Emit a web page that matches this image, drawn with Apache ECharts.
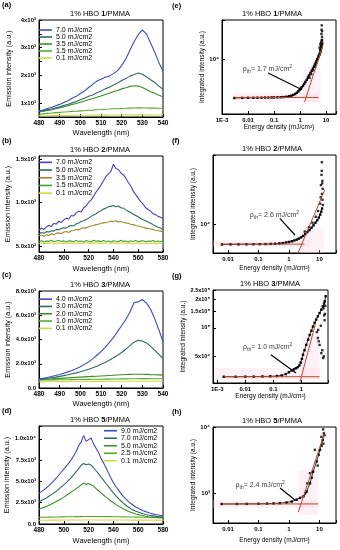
<!DOCTYPE html>
<html><head><meta charset="utf-8">
<script src="https://cdn.jsdelivr.net/npm/echarts@6/dist/echarts.min.js"></script>
<style>html,body{margin:0;padding:0;background:#fff}#c{width:340px;height:550px}</style>
</head><body><div id="c"></div>
<script>
// ---------- DATA ----------
const wlA = [480,482,484,486,488,490,492,494,496,498,500,502,504,506,508,510,512,514,516,518,520,522,524,526,528,530,532,534,536,538,540];
const wlB = [480,482,484,486,488,490,492,494,496,498,500,502,504,506,508,510,512,514,516,518,520,522,524,526,528,530,532,534,536,538,540,542,544,546,548,550,552,554,556,558,560,562,564,566,568,570,572,574,576,578,580];

const namesA = ['7.0 mJ/cm2','5.0 mJ/cm2','3.5 mJ/cm2','1.5 mJ/cm2','0.1 mJ/cm2'];
const namesB = ['7.0 mJ/cm2','5.0 mJ/cm2','3.5 mJ/cm2','1.5 mJ/cm2','0.1 mJ/cm2'];
const namesC = ['4.0 mJ/cm2','3.0 mJ/cm2','2.0 mJ/cm2','1.0 mJ/cm2','0.1 mJ/cm2'];
const namesD = ['9.0 mJ/cm2','7.0 mJ/cm2','5.0 mJ/cm2','2.5 mJ/cm2','0.1 mJ/cm2'];

const a70 = [720,755,805,845,905,955,1025,1085,1175,1245,1345,1435,1565,1675,1795,1865,1935,1975,2065,2175,2355,2595,2905,3215,3470,3640,3500,3170,2840,2470,2150];
const a50 = [700,730,765,790,835,865,915,955,1015,1055,1125,1175,1245,1295,1375,1435,1515,1575,1655,1725,1815,1885,1975,2035,2085,2040,1955,1845,1745,1615,1500];
const a35 = [680,700,735,755,795,825,875,905,955,985,1035,1075,1125,1165,1215,1255,1315,1355,1415,1455,1515,1555,1605,1625,1615,1565,1495,1415,1355,1285,1230];
const a15 = [600,612,632,643,657,668,682,688,702,708,722,728,742,748,762,768,782,788,797,800,807,813,822,824,831,828,826,820,822,816,815];
const a01 = [540,546,547,551,551,556,555,559,559,561,561,564,564,567,567,570,569,572,571,574,573,576,574,577,575,576,574,575,572,573,571];

const b70 = [680,705,690,720,735,725,760,750,785,770,800,820,810,850,845,880,900,890,940,960,1000,1030,1070,1120,1160,1200,1250,1300,1330,1360,1440,1390,1380,1340,1320,1280,1230,1190,1130,1090,1050,1010,980,940,920,900,870,860,840,830,815];
const b50 = [640,655,645,665,660,675,670,690,685,700,710,705,725,735,730,755,765,780,790,805,820,840,855,870,890,905,925,935,950,955,965,950,960,940,935,915,900,885,865,850,835,815,800,790,775,760,745,730,715,705,690];
const b35 = [615,625,610,630,620,640,630,645,650,640,660,665,655,675,680,690,685,700,710,705,720,730,735,745,750,760,765,770,775,785,780,790,775,780,770,765,760,750,745,735,730,720,715,705,700,695,690,680,675,670,665];
const b15 = [550,560,545,558,552,565,548,556,562,550,558,545,560,555,548,563,552,557,546,561,554,549,566,553,558,547,562,551,556,544,560,553,549,564,552,557,546,559,551,562,548,555,560,547,556,552,563,549,557,551,554];
const b01 = [528,534,526,531,529,536,524,530,533,527,532,525,535,529,531,524,533,528,530,536,526,532,529,534,527,531,525,533,530,528,535,526,531,529,534,527,532,530,525,533,529,531,527,534,528,530,532,526,531,529,530];

const c40 = [750,810,870,950,1030,1120,1220,1330,1450,1590,1750,1950,2150,2400,2700,3000,3350,3750,4150,4650,5150,5650,6250,7050,7100,7300,7000,6500,5700,4800,3800];
const c30 = [720,760,800,850,900,960,1020,1090,1170,1250,1340,1440,1550,1670,1800,1950,2110,2290,2490,2700,2930,3200,3500,3780,3930,3880,3720,3430,3120,2780,2450];
const c20 = [700,715,735,755,775,795,815,835,855,875,895,915,935,955,975,995,1015,1035,1055,1075,1095,1110,1120,1130,1135,1130,1120,1105,1095,1080,1060];
const c10 = [650,655,662,666,672,676,682,686,692,696,702,706,712,716,722,726,732,736,742,746,752,755,760,764,767,770,770,769,767,764,762];
const c01 = [500,506,510,516,519,523,525,529,530,533,535,538,540,543,544,547,548,550,551,553,553,555,555,556,556,557,556,556,555,554,553];

const d90 = [3600,3800,4000,4250,4500,4800,5100,5400,5750,6100,6450,6800,7150,7550,8000,8500,9200,9600,10400,9700,9900,10100,9400,8900,8400,7700,7200,6600,6000,5400,4850,4400,4000,3600,3250,2950,2650,2400,2200,2000,1850,1700,1550,1450,1350,1250,1180,1100,1050,1000,950];
const d70 = [2600,2750,2900,3050,3250,3450,3650,3850,4100,4350,4600,4850,5150,5450,5800,6150,6500,6900,7100,6950,7050,6900,6600,6250,5900,5500,5150,4750,4400,4000,3650,3300,3000,2700,2450,2200,2000,1800,1650,1500,1400,1300,1200,1120,1050,1000,950,900,870,850,830];
const d50 = [1750,1850,1950,2050,2200,2350,2500,2650,2800,2950,3150,3350,3550,3750,3950,4150,4350,4600,4800,4650,4750,4600,4450,4150,3900,3650,3400,3150,2950,2700,2500,2300,2100,1950,1800,1650,1500,1380,1280,1180,1100,1020,960,900,850,810,780,760,740,720,710];
const d25 = [780,790,795,800,808,812,818,822,828,832,838,842,848,852,858,862,866,870,874,876,878,880,880,879,878,876,874,870,866,862,858,852,848,842,836,830,826,820,815,810,805,800,796,792,788,784,780,776,772,768,765];
const d01 = [440,442,445,447,449,451,453,455,457,459,461,463,464,466,467,468,469,470,471,471,472,472,472,472,471,471,470,470,469,468,467,466,465,464,463,462,461,460,459,458,457,456,455,454,453,452,451,450,449,448,447];

// threshold panels
const eX = [0.003,0.006,0.01,0.016,0.023,0.033,0.045,0.06,0.08,0.1,0.135,0.18,0.23,0.3,0.38,0.46,0.55,0.65,0.75,0.85,0.95,1.05,1.15,1.3,1.45,1.6,1.8,2.0,2.2,2.5,2.8,3.1,3.4,3.7,4.0,4.3,4.6,4.9,5.2,5.5,5.8,6.1,6.3,6.5,6.7,6.9];
const eY = [3850,3860,3870,3870,3880,3880,3890,3890,3900,3900,3910,3920,3940,3970,4010,4070,4150,4250,4380,4520,4680,4850,5000,5200,5450,5700,6000,6350,6700,7100,7500,7900,8300,8700,9100,9500,9900,10300,10700,11100,11500,12000,12500,13000,13600,14200];
const eSX = [6.8,6.6,7.0,6.9,6.5,7.1,6.2,5.9,5.3,4.7,4.2,3.8,3.2,2.7,2.3,6.0,5.6,7.0,6.7,6.95];
const eSY = [22800,18500,17200,16000,15200,14800,13800,12600,10900,9900,9000,8300,7600,6900,6300,14500,13200,19800,20500,15800];
const eFitHX = [0.003,5.2], eFitHY = [3900,3900];
const eFitSX = [1.5,7.6], eFitSY = [3500,14200];
const eNote = [0.006,7830], eArrow = [[0.059,7100],[1.19,4700]];
const eBands = [[0.0025,3450,5.2,4350],[1.36,3450,6.0,8300]];

const fX = [0.0063,0.012,0.022,0.04,0.068,0.11,0.17,0.25,0.35,0.48,0.62,0.8,1.0,1.25,1.5,1.8,2.1,2.5,2.9,3.4,4.0,4.7,5.5,6.4,7.4,8.5,9.6,10.6,11.5,12.2];
const fY = [6250,6260,6260,6270,6280,6290,6300,6320,6350,6400,6450,6530,6620,6720,6850,6980,7150,7350,7600,7900,8300,8700,9200,9700,10300,10900,11600,12400,13300,14300];
const fSX = [12.0,11.7,12.5,11.2,12.8,12.1,11.0,12.6,10.5,9.0,7.6,5.9,4.5,3.3,13.0,11.9,12.3];
const fSY = [41500,31000,27000,24500,22500,20000,18500,17500,16000,13500,11800,10300,9300,8400,15500,34000,25500];
const fFitHX = [0.006,3.2], fFitHY = [6300,6300];
const fFitSX = [1.8,15], fFitSY = [4800,22000];
const fNote = [0.05,12300], fArrow = [[0.5,11400],[1.57,7760]];
const fBands = [[0.0032,5900,4.9,6900],[2.3,5130,14,9100]];

const gX = [0.0017,0.0045,0.010,0.020,0.041,0.078,0.135,0.2,0.28,0.36,0.45,0.55,0.65,0.75,0.85,0.95,1.05,1.15,1.3,1.5,1.75,2.0,2.3,2.6,3.0,3.4,3.9,4.5,5.2,5.9,6.5,6.9,7.4];
const gY = [30500,30500,30600,30600,30700,30800,31000,31500,32500,34000,35500,36500,37500,38500,40000,43000,47000,52000,58000,66000,75000,84000,93000,103000,113000,122000,132000,143000,155000,168000,180000,190000,215000];
const gSX = [3.9,4.5,5.2,6.0,4.2,5.6,6.4,6.8,7.0,5.0,4.0,3.6,6.2,7.2,6.6];
const gSY = [78000,66000,54000,48000,72000,58000,50000,120000,140000,105000,95000,90000,160000,170000,135000];
const gFitHX = [0.0017,4.5], gFitHY = [30500,30500];
const gFitSX = [0.9,3.2], gFitSY = [27000,110000];
const gNote = [0.008,63000], gArrow = [[0.082,52000],[0.65,33400]];
const gBands = [[0.0008,28400,4.9,37700],[1.0,28400,4.5,84000]];
const gTicks = [50000,100000,150000,200000,250000];

const hX = [0.0062,0.0195,0.041,0.1,0.19,0.31,0.5,0.83,1.23,1.78,2.3,3.0,3.8,4.9,6.2,8.1,10.4,12.8,14.0];
const hY = [680,680,682,685,688,692,700,715,740,790,840,890,1050,1400,2100,3000,4500,6350,8000];
const hSX = [7.1,4.9,4.0,11.6,14.8,13.5,12.0,9.5,5.6,3.4,8.8,13.2];
const hSY = [4500,1990,1400,7100,7500,5600,5200,3800,1700,980,2600,9200];
const hFitHX = [0.0062,9], hFitHY = [681,681];
const hFitSX = [2.02,15.1], hFitSY = [510,8500];
const hNote = [0.017,1320], hArrow = [[0.51,1190],[1.57,783]];
const hBands = [[0.0032,593,9.1,784],[2.0,464,9.1,2230]];

// ---------- STYLE / BUILD ----------
const FONT = 'Liberation Sans';
const SUPS = '⁰¹²³⁴⁵⁶⁷⁸⁹';
const sup = n => String(n).split('').map(c => c === '-' ? '⁻' : SUPS[+c]).join('');
const RED = '#c2452b';
const colA = ['#3a4cc8','#2e6a60','#3d8f28','#5aa62c','#d0dc3c'];
const colB = ['#4a40c0','#2e6a60','#9c8a2c','#48a02c','#d0dc3c'];

const grid = [
  {left:39, top:20, width:124, height:97},
  {left:39, top:156, width:124, height:96},
  {left:39, top:291, width:124, height:97},
  {left:39, top:426, width:124, height:98},
  {left:222, top:20, width:114, height:94},
  {left:213, top:155, width:123, height:98},
  {left:213, top:290, width:115, height:93},
  {left:213, top:427, width:123, height:96}
].map(g => Object.assign({show:true, borderColor:'#000', borderWidth:1, backgroundColor:'transparent'}, g));

function axis(gi, o) {
  return {
    gridIndex: gi, type: o.type || 'value', min: o.min, max: o.max, interval: o.interval, logBase: 10,
    name: o.name, nameLocation: 'middle', nameGap: o.nameGap,
    nameTextStyle: {color:'#000', fontSize: o.nameSize || 7.5, fontFamily: FONT},
    axisLine: {onZero:false, lineStyle:{color:'#000', width:1}},
    axisTick: {inside:true, length:3, lineStyle:{color:'#000'}, customValues: o.custom},
    axisLabel: {color:'#000', fontSize: o.labelSize || 6.5, fontWeight:'bold', fontFamily: FONT, margin: o.margin || 3,
                formatter: o.fmt, customValues: o.custom, hideOverlap:false},
    splitLine: {show:false}
  };
}
const logXfmt = v => { const l = Math.log10(v), r = Math.round(l); if (Math.abs(l - r) > 1e-6) return ''; return {'-3':'1E-3','-2':'0.01','-1':'0.1','0':'1','1':'10'}[String(r)] || ''; };
const logYfmt = v => { const l = Math.log10(v), r = Math.round(l); if (Math.abs(l - r) > 1e-6) return ''; return '10' + sup(r); };
const sciFmt = v => { const e = Math.floor(Math.log10(v) + 1e-9); const m = Math.round(v / Math.pow(10, e) * 10) / 10; return m === 1 ? '10' + sup(e) : m + 'x10' + sup(e); };

const WL = 'Wavelength (nm)', EI = 'Emission intensity (a.u.)', ED = 'Energy density (mJ/cm²)', II = 'Integrated intensity (a.u.)';
const xAxis = [
  axis(0, {min:480, max:540, interval:10, name:WL, nameGap:12}),
  axis(1, {min:480, max:580, interval:20, name:WL, nameGap:13}),
  axis(2, {min:480, max:540, interval:10, name:WL, nameGap:12}),
  axis(3, {min:480, max:580, interval:20, name:WL, nameGap:13}),
  axis(4, {type:'log', min:0.001, max:24, name:ED, nameGap:9, nameSize:6.5, labelSize:6, fmt:logXfmt}),
  axis(5, {type:'log', min:0.0032, max:35, name:ED, nameGap:12, nameSize:6.5, labelSize:6, fmt:logXfmt}),
  axis(6, {type:'log', min:0.0007, max:9, name:ED, nameGap:10, nameSize:6.5, labelSize:6, fmt:logXfmt}),
  axis(7, {type:'log', min:0.0032, max:35, name:ED, nameGap:14, nameSize:6.5, labelSize:6, fmt:logXfmt})
];
const yAxis = [
  axis(0, {min:500, max:4000, interval:500, name:EI, nameGap:26, nameSize:7.2, labelSize:6,
           fmt: v => v % 1000 === 0 ? (v/1000) + 'x10³' : ''}),
  axis(1, {min:430, max:1535, custom:[500,1000,1500], name:EI, nameGap:26, nameSize:7.2, labelSize:6,
           fmt: v => ({500:'5.0x10²',1000:'1.0x10³',1500:'1.5x10³'})[v] || ''}),
  axis(2, {min:0, max:8000, interval:2000, name:EI, nameGap:26, nameSize:7.2, labelSize:6,
           fmt: v => v === 0 ? '0.0' : (v/1000).toFixed(1) + 'x10³'}),
  axis(3, {min:0, max:11500, interval:2500, name:EI, nameGap:26, nameSize:7.2, labelSize:6,
           fmt: v => v === 0 ? '0.0' : v === 10000 ? '1.0x10⁴' : v % 2500 === 0 ? (v/1000).toFixed(1) + 'x10³' : ''}),
  axis(4, {type:'log', min:2600, max:26000, name:II, nameGap:15, nameSize:6.5, labelSize:6, fmt:logYfmt}),
  axis(5, {type:'log', min:5130, max:49000, name:II, nameGap:14, nameSize:6.5, labelSize:6, fmt:logYfmt}),
  axis(6, {type:'log', min:26200, max:250000, custom:gTicks, name:II, nameGap:24, nameSize:6.5, labelSize:5.5, fmt:sciFmt}),
  axis(7, {type:'log', min:350, max:10000, name:II, nameGap:14, nameSize:6.5, labelSize:6, fmt:logYfmt})
];

const series = [];
const legend = [];
function addSpec(gi, wl, arrs, names, cols, pos) {
  const uniq = names.map(n => n + ' '.repeat(gi + 1));
  arrs.forEach((a, k) => series.push({
    type:'line', name: uniq[k], xAxisIndex:gi, yAxisIndex:gi,
    data: wl.map((w, i) => [w, a[i]]), symbol:'none',
    lineStyle:{color:cols[k], width:1.1}, itemStyle:{color:cols[k]}, z: 10 - k
  }));
  legend.push({data: uniq, orient:'vertical', left:pos[0], top:pos[1], padding:0, itemGap:0,
    itemWidth:13, itemHeight:1.6, icon:'rect', selectedMode:false,
    textStyle:{fontSize:7, lineHeight:pos[2], fontFamily:FONT, color:'#000', padding:[0,0,0,-1]}});
}
addSpec(0, wlA, [a70,a50,a35,a15,a01], namesA, colA, [39, 26.5, 6.9]);
addSpec(1, wlB, [b70,b50,b35,b15,b01], namesB, colB, [39, 158.5, 7.7]);
addSpec(2, wlA, [c40,c30,c20,c10,c01], namesC, colA, [39, 295.5, 7.3]);
addSpec(3, wlB, [d90,d70,d50,d25,d01], namesD, colA, [104, 427, 7.5]);

const zip = (xs, ys) => xs.map((x, i) => [x, ys[i]]);
function addThr(gi, P) {
  series.push({type:'line', xAxisIndex:gi, yAxisIndex:gi, data: zip(P.hx, P.hy), symbol:'none',
    lineStyle:{color:RED, width:1}, z:6, silent:true,
    markArea:{silent:true, itemStyle:{color:'rgba(250,208,226,0.28)'},
      data: P.bands.map(b => [{coord:[b[0], b[1]]}, {coord:[b[2], b[3]]}])}});
  series.push({type:'line', xAxisIndex:gi, yAxisIndex:gi, data: zip(P.sx, P.sy), symbol:'none',
    lineStyle:{color:RED, width:1}, z:6, silent:true});
  series.push({type:'line', xAxisIndex:gi, yAxisIndex:gi, data: zip(P.x, P.y), symbol:'rect', symbolSize:2.4,
    showAllSymbol:true, itemStyle:{color:'#000'}, lineStyle:{color:'#000', width:0.8}, z:5, silent:true});
  series.push({type:'scatter', xAxisIndex:gi, yAxisIndex:gi, data: zip(P.px, P.py), symbol:'rect', symbolSize:2.4,
    itemStyle:{color:'#000'}, z:5, silent:true});
  series.push({type:'scatter', xAxisIndex:gi, yAxisIndex:gi, data:[P.note], symbolSize:1,
    itemStyle:{color:'transparent'}, silent:true, z:8,
    label:{show:true, position:'right', distance:0, formatter: P.text,
      rich:{r:{fontSize:7, lineHeight:10, fontFamily:FONT, color:'#000'},
            s:{fontSize:5, verticalAlign:'bottom', fontFamily:FONT, color:'#000'},
            p:{fontSize:5, verticalAlign:'top', fontFamily:FONT, color:'#000'}}},
    markLine:{silent:true, symbol:['none','arrow'], symbolSize:[0,5], label:{show:false},
      lineStyle:{color:'#000', width:1.2, type:'solid'},
      data:[[{coord:P.arrow[0]}, {coord:P.arrow[1]}]]}});
}
const note = t => '{r|ρ}{s|th}{r|= ' + t + ' mJ/cm}{p|2}';
addThr(4, {x:eX, y:eY, px:eSX, py:eSY, hx:eFitHX, hy:eFitHY, sx:eFitSX, sy:eFitSY, note:eNote, arrow:eArrow, bands:eBands, text:note('1.7')});
addThr(5, {x:fX, y:fY, px:fSX, py:fSY, hx:fFitHX, hy:fFitHY, sx:fFitSX, sy:fFitSY, note:fNote, arrow:fArrow, bands:fBands, text:note('2.6')});
addThr(6, {x:gX, y:gY, px:gSX, py:gSY, hx:gFitHX, hy:gFitHY, sx:gFitSX, sy:gFitSY, note:gNote, arrow:gArrow, bands:gBands, text:note('1.0')});
addThr(7, {x:hX, y:hY, px:hSX, py:hSY, hx:hFitHX, hy:hFitHY, sx:hFitSX, sy:hFitSY, note:hNote, arrow:hArrow, bands:hBands, text:note('2.4')});

// titles and panel letters
const titles = [
  ['1','(a)',100,14,2,1], ['2','(b)',100,150,2,137], ['3','(c)',100,285,2,271], ['5','(d)',100,420,2,407],
  ['1','(e)',272,14,172,2], ['2','(f)',272,149,172,137], ['3','(g)',270,284,172,272], ['5','(h)',272,421,172,408]
];
const graphic = [];
titles.forEach(t => {
  graphic.push({type:'text', x:t[2], y:t[3], silent:true,
    style:{text:'1% HBO {b|' + t[0] + '}/PMMA', fill:'#000', fontSize:7.5, fontFamily:FONT, align:'center', verticalAlign:'middle',
           rich:{b:{fontWeight:'bold', fontSize:7.5, fontFamily:FONT, fill:'#000'}}}});
  graphic.push({type:'text', x:t[4], y:t[5], silent:true,
    style:{text:t[1], fill:'#000', fontSize:7.5, fontWeight:'bold', fontFamily:FONT, align:'left', verticalAlign:'top'}});
});

const chart = echarts.init(document.getElementById('c'), null, {renderer:'canvas'});
chart.setOption({
  animation:false,
  textStyle:{fontFamily:FONT},
  grid, xAxis, yAxis, series, legend, graphic
});
</script></body></html>
